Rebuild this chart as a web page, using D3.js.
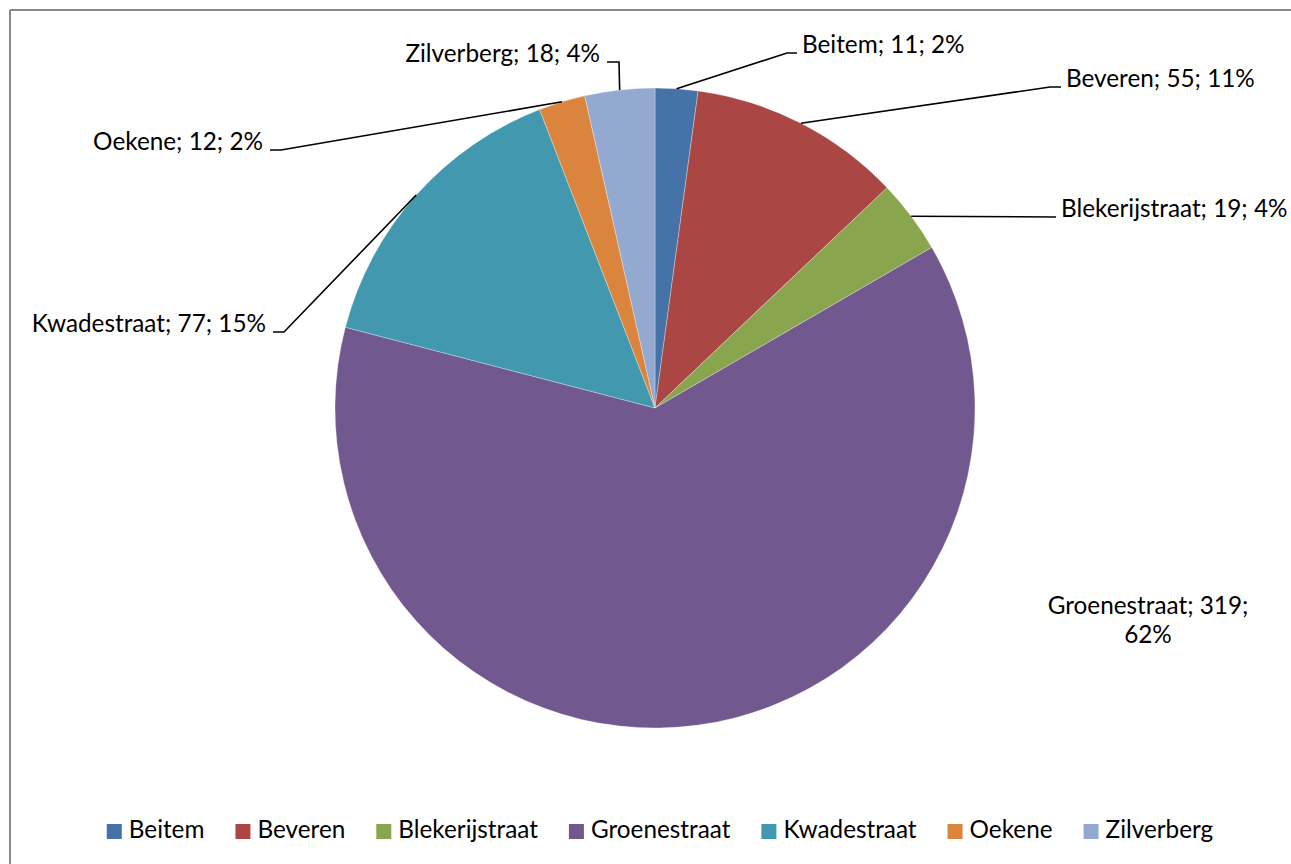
<!DOCTYPE html>
<html>
<head>
<meta charset="utf-8">
<script src="https://cdn.jsdelivr.net/npm/d3@7/dist/d3.min.js"></script>
<style>
  html, body { margin: 0; padding: 0; background: #fff; }
  svg { display: block; }
  text { font-family: Lato, "Open Sans", sans-serif; fill: #000; }
</style>
</head>
<body>
<svg id="chart" width="1291" height="864"></svg>
<script>
// Wijken en aantallen
const categories = ["Beitem", "Beveren", "Blekerijstraat", "Groenestraat", "Kwadestraat", "Oekene", "Zilverberg"];
const values = [11, 55, 19, 319, 77, 12, 18];
const colors = ["#4572A7", "#AA4643", "#89A54E", "#71588F", "#4198AF", "#DB843D", "#93A9CF"];

// Label placement: elbow point of the leader line and text side
const labelLayout = [
  { elbow: [787, 53], end: [797, 53], anchor: "start" },
  { elbow: [1050, 87], end: [1061, 87], anchor: "start" },
  { elbow: [1056, 217], end: [1056, 217], anchor: "start" },
  { text: [1148, 608], anchor: "middle", lines: ["Groenestraat; 319;", "62%"] },
  { elbow: [284, 332], end: [273, 332], anchor: "end" },
  { elbow: [281, 150], end: [270, 150], anchor: "end" },
  { elbow: [619, 62], end: [607, 62], anchor: "end" }
];

const svg = d3.select("#chart");
const W = 1291, H = 864;
const cx = 655, cy = 408, R = 320;
const fontSize = 24.3;

// Chart frame (left and top edges visible)
svg.append("line").attr("x1", 10).attr("y1", 10).attr("x2", W).attr("y2", 10)
  .attr("stroke", "#888").attr("stroke-width", 2);
svg.append("line").attr("x1", 10).attr("y1", 10).attr("x2", 10).attr("y2", H)
  .attr("stroke", "#888").attr("stroke-width", 2);

const total = d3.sum(values);
const data = categories.map((c, i) => ({ name: c, value: values[i], color: colors[i], layout: labelLayout[i] }));

const pie = d3.pie().value(d => d.value).sort(null);
const arc = d3.arc().innerRadius(0).outerRadius(R);
const arcs = pie(data);

const g = svg.append("g").attr("transform", `translate(${cx},${cy})`);
g.selectAll("path.slice").data(arcs).join("path")
  .attr("class", "slice")
  .attr("d", arc)
  .attr("fill", d => d.data.color)
  .attr("stroke", "rgba(255,255,255,0.5)")
  .attr("stroke-width", 0.6);

// Data labels with leader lines
const labels = svg.append("g");
arcs.forEach(a => {
  const d = a.data, L = d.layout;
  const pct = Math.round(d.value / total * 100) + "%";
  const txt = `${d.name}; ${d.value}; ${pct}`;
  if (L.text) {
    const t = labels.append("text").attr("text-anchor", "middle")
      .attr("font-size", fontSize);
    L.lines.forEach((ln, k) => {
      t.append("tspan").attr("x", L.text[0]).attr("y", L.text[1] + k * 29)
        .attr("dominant-baseline", "middle").text(ln);
    });
    return;
  }
  const mid = (a.startAngle + a.endAngle) / 2;
  const p0 = [cx + R * Math.sin(mid), cy - R * Math.cos(mid)];
  labels.append("polyline")
    .attr("points", [p0, L.elbow, L.end].map(p => p.join(",")).join(" "))
    .attr("fill", "none").attr("stroke", "#000").attr("stroke-width", 1.6);
  const dx = L.anchor === "start" ? 5 : -7;
  labels.append("text")
    .attr("x", L.end[0] + dx).attr("y", L.end[1] - 6)
    .attr("text-anchor", L.anchor)
    .attr("dominant-baseline", "middle")
    .attr("font-size", fontSize)
    .text(txt);
});

// Legend along the bottom, centred
const legend = svg.append("g");
const items = legend.selectAll("g").data(data).join("g");
items.append("rect").attr("width", 15).attr("height", 15).attr("y", 824)
  .attr("fill", d => d.color);
items.append("text").attr("x", 22).attr("y", 832)
  .attr("dominant-baseline", "middle").attr("font-size", fontSize)
  .text(d => d.name);
let x = 0;
const offs = [];
items.each(function() {
  const w = d3.select(this).select("text").node().getComputedTextLength();
  offs.push(x);
  x += 22 + w + 31;
});
const totalW = x - 31;
const x0 = 660 - totalW / 2;
items.attr("transform", (d, i) => `translate(${x0 + offs[i]},0)`);
</script>
</body>
</html>
